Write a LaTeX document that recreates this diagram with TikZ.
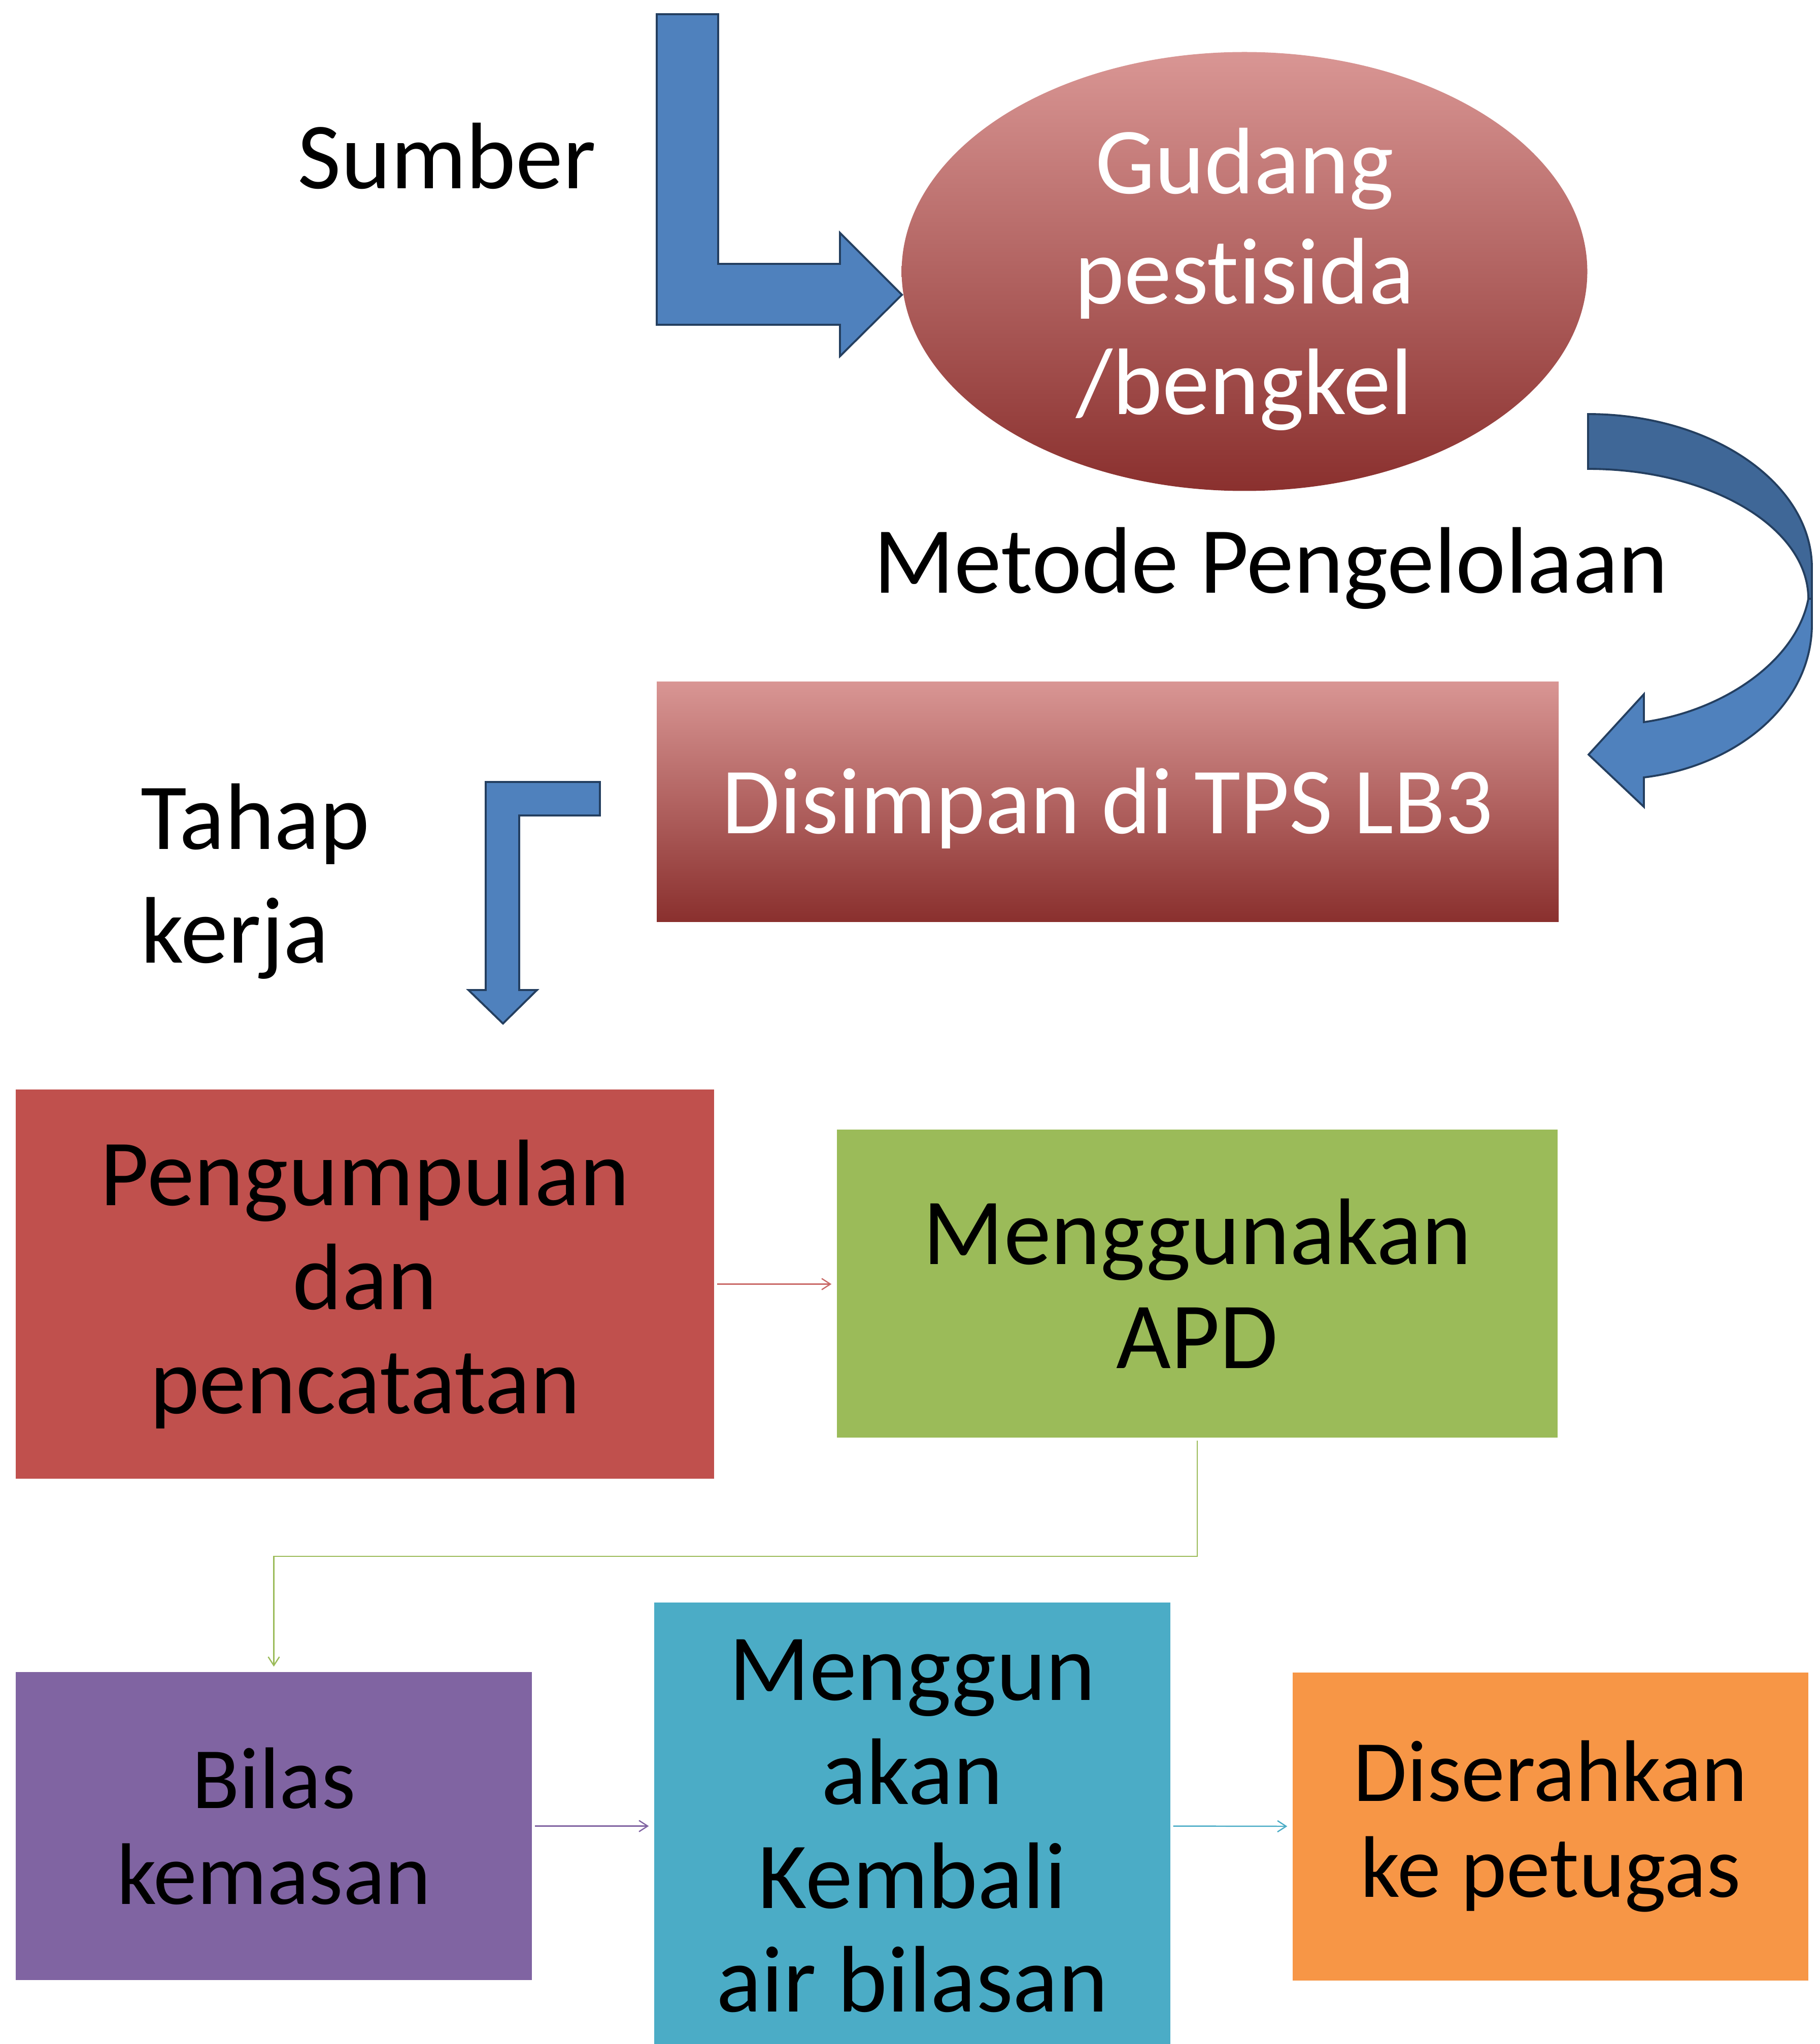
\documentclass[tikz,border=0pt]{standalone}
\usepackage{fontspec}
\setmainfont{Carlito}[Ligatures={NoCommon},RawFeature={-clig;-calt;-dlig}]
\usetikzlibrary{shapes.geometric,arrows.meta}

\definecolor{merah}{HTML}{C0504D}
\definecolor{merahmuda}{HTML}{D99694}
\definecolor{merahtua}{HTML}{8A302E}
\definecolor{hijau}{HTML}{9BBB59}
\definecolor{ungu}{HTML}{8064A2}
\definecolor{biru}{HTML}{4BACC6}
\definecolor{oranye}{HTML}{F79646}
\definecolor{panah}{HTML}{4F81BD}
\definecolor{panahgelap}{HTML}{3F6797}
\definecolor{garis}{HTML}{243F60}

\begin{document}
\begin{tikzpicture}[
   kotak/.style={rectangle,inner sep=0pt,align=center,font=\fontsize{53}{58.3}\selectfont},
   kotakkecil/.style={kotak,font=\fontsize{49}{53.8}\selectfont},
   gradien/.style={top color=merahmuda,middle color=merah,bottom color=merahtua,text=white},
   teks/.style={inner sep=0pt,font=\fontsize{53}{62}\selectfont},
   blok/.style={fill=panah,draw=garis,line width=1.1pt,line join=miter},
   alur/.style={line width=0.7pt,-{Straight Barb[length=0.17cm,width=0.22cm]},shorten <=0.05cm,shorten >=0.1cm}
]
   \useasboundingbox (0,0) rectangle (35.85,-40.28);

   \node[ellipse,inner xsep=0pt,inner ysep=-0.5cm,minimum width=13.51cm,minimum height=8.65cm,gradien,align=center,font=\fontsize{53}{62}\selectfont] (gudang) at (24.52,-5.35) {\rule{0pt}{1.6cm}Gudang\\pestisida\\/bengkel};
   \node[kotak,gradien,text height=47.7pt,text depth=11.7pt,minimum width=17.77cm,minimum height=4.73cm] (tps) at (21.825,-15.795) {Disimpan di TPS LB3};
   \node[kotak,fill=merah,minimum width=13.76cm,minimum height=7.67cm] (kumpul) at (7.19,-25.305) {Pengumpulan\\dan\\pencatatan};
   \node[kotak,fill=hijau,minimum width=14.20cm,minimum height=6.07cm] (apd) at (23.59,-25.295) {Menggunakan\\APD};
   \node[kotakkecil,fill=ungu,minimum width=10.17cm,minimum height=6.07cm] (bilas) at (5.395,-35.985) {Bilas\\kemasan};
   \node[kotak,fill=biru,minimum width=10.17cm,minimum height=8.82cm] (kembali) at (17.975,-35.985) {Menggun\\akan\\Kembali\\air bilasan};
   \node[kotakkecil,fill=oranye,minimum width=10.16cm,minimum height=6.07cm] (serah) at (30.55,-35.99) {Diserahkan\\ke petugas};

   \node[teks,anchor=base west] (sumber) at (5.86,-3.72) {Sumber};
   \node[teks,anchor=base west] (metode) at (17.21,-11.68) {Metode Pengelolaan};
   \node[teks,anchor=west,align=left,font=\fontsize{53}{63.7}\selectfont] (tahap) at (2.77,-17.37) {Tahap\\kerja};

   \draw[blok] (12.94,-0.28) -- (14.15,-0.28) -- (14.15,-5.20) -- (16.55,-5.20) -- (16.55,-4.59) -- (17.77,-5.81) -- (16.55,-7.02) -- (16.55,-6.40) -- (12.94,-6.40) -- cycle;
   \draw[blok] (11.82,-15.41) -- (11.82,-16.07) -- (10.23,-16.07) -- (10.23,-19.51) -- (10.58,-19.51) -- (9.91,-20.17) -- (9.23,-19.51) -- (9.57,-19.51) -- (9.57,-15.41) -- cycle;
   \draw[blok,fill=panahgelap] (31.29,-8.16) .. controls (33.72,-8.16) and (35.70,-9.52) .. (35.70,-11.19) -- (35.70,-11.80) -- (35.63,-11.80) .. controls (35.63,-10.39) and (33.69,-9.24) .. (31.29,-9.24) -- cycle;
   \draw[blok] (35.63,-11.80) -- (35.70,-11.80) -- (35.70,-12.30) .. controls (35.70,-13.90) and (34.20,-15.10) .. (32.39,-15.32) -- (32.39,-15.90) -- (31.30,-14.87) -- (32.39,-13.68) -- (32.39,-14.23) .. controls (34.00,-14.00) and (35.40,-13.00) .. (35.63,-11.80) -- cycle;

   \draw[alur,draw=merah!85] (kumpul.east) -- (kumpul.east -| apd.west);
   \draw[alur,draw=hijau] (apd.south) -- ++(0,-2.33) -| (bilas.north);
   \draw[alur,draw=ungu] (bilas.east) -- (kembali.west);
   \draw[alur,draw=biru] (kembali.east) -- (serah.west);
\end{tikzpicture}
\end{document}
